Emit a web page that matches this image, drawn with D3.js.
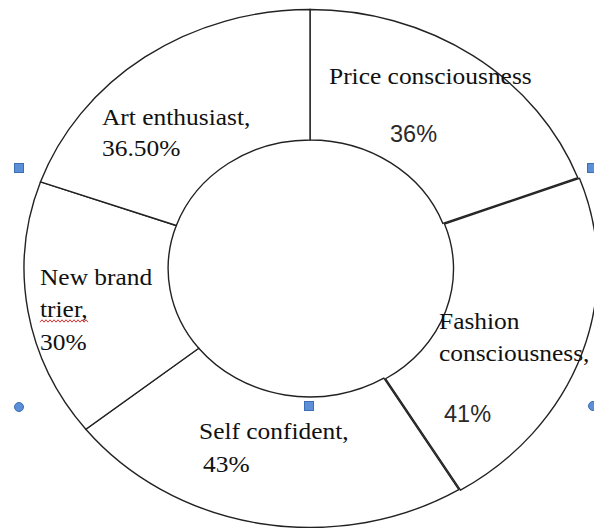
<!DOCTYPE html>
<meta charset="utf-8">
<script src="https://d3js.org/d3.v7.min.js"></script>
<style>
  body { margin: 0; background: #fff; }
</style>
<svg id="chart" width="594" height="528"></svg>
<script>

// Data
var categories = ["Price consciousness", "Fashion consciousness", "Self confident", "New brand trier", "Art enthusiast"];
var values = [36, 41, 43, 30, 36.5];
var valueLabels = ["36%", "41%", "43%", "30%", "36.50%"];

var svg = d3.select("#chart");

// the donut is a bit wider than tall
var cx = 310, cy = 268.5,
    outerR = 259, innerR = 128.5,
    stretch = 1.104;

var pie = d3.pie().sort(null).value(function(d){ return d.value; });
var arc = d3.arc().innerRadius(innerR).outerRadius(outerR);

var slices = pie(categories.map(function(c, i){
  return { name: c, value: values[i], pct: valueLabels[i] };
}));

// Fashion slice is pulled out just a little
var explode = { "Fashion consciousness": 1.6 };

var g = svg.append("g")
    .attr("transform", "translate(" + cx + "," + cy + ") scale(" + stretch + ",1)");

// draw the exploded one last so its edge sits on top
var order = slices.slice().sort(function(a, b){
  return (explode[a.data.name] ? 1 : 0) - (explode[b.data.name] ? 1 : 0);
});

g.selectAll("path")
  .data(order)
  .enter()
  .append("path")
    .attr("d", arc)
    .attr("transform", function(d){
      var off = explode[d.data.name] || 0;
      var a = (d.startAngle + d.endAngle) / 2;
      return "translate(" + (Math.sin(a) * off) + "," + (-Math.cos(a) * off) + ")";
    })
    .attr("fill", "#fff")
    .attr("stroke", "#222")
    .attr("stroke-width", 1.4)
    .attr("stroke-linejoin", "miter")
    .attr("vector-effect", "non-scaling-stroke");

// Labels (placed by hand like the Word chart)
var serif = "'Liberation Serif', 'Times New Roman', serif";
var sans = "'Liberation Sans', Arial, sans-serif";

var labelLayout = [
  [ { x: 329, y: 84,  text: function(d){ return d.name; }, font: serif },
    { x: 390, y: 142, text: function(d){ return d.pct; },  font: sans } ],
  [ { x: 439, y: 329, text: function(d){ return d.name.split(" ")[0]; }, font: serif },
    { x: 439, y: 361, text: function(d){ return d.name.split(" ")[1] + ","; }, font: serif },
    { x: 444, y: 422, text: function(d){ return d.pct; }, font: sans } ],
  [ { x: 199, y: 439, text: function(d){ return d.name + ","; }, font: serif },
    { x: 203, y: 472, text: function(d){ return d.pct; }, font: serif } ],
  [ { x: 40, y: 285, text: function(d){ return d.name.split(" ").slice(0, 2).join(" "); }, font: serif },
    { x: 40, y: 317, text: function(d){ return d.name.split(" ")[2] + ","; }, font: serif },
    { x: 40, y: 350, text: function(d){ return d.pct; }, font: serif } ],
  [ { x: 102, y: 125, text: function(d){ return d.name + ","; }, font: serif },
    { x: 102, y: 156, text: function(d){ return d.pct; }, font: serif } ]
];

var labels = svg.append("g");
slices.forEach(function(s, i){
  labelLayout[i].forEach(function(l){
    var isSerif = l.font === serif;
    labels.append("text")
      .attr("transform", "translate(" + l.x + "," + l.y + ") scale(" + (isSerif ? 1.06 : 1) + ",1)")
      .attr("font-family", l.font)
      .attr("font-size", isSerif ? 24 : 23.5)
      .attr("fill", isSerif ? "#111" : "#2a2a2a")
      .text(l.text(s.data));
  });
});

// spell-check squiggle under "trier,"
var squiggle = d3.range(0, 25).map(function(i){ return [40 + i * 2, 321 + (i % 2 ? -1.2 : 1.2)]; });
svg.append("path")
  .attr("d", d3.line()(squiggle))
  .attr("fill", "none")
  .attr("stroke", "#d33")
  .attr("stroke-width", 1);

// selection handles left by the editor
var handles = [
  { x: 19,  y: 168, shape: "square" },
  { x: 592, y: 168, shape: "square" },
  { x: 309, y: 406, shape: "square" },
  { x: 19,  y: 407, shape: "circle" },
  { x: 593, y: 406, shape: "circle" }
];
var hg = svg.append("g");
handles.forEach(function(h){
  if (h.shape === "square") {
    hg.append("rect")
      .attr("x", h.x - 4.5).attr("y", h.y - 4.5)
      .attr("width", 9).attr("height", 9)
      .attr("fill", "#5b8fd8").attr("stroke", "#3d6db3").attr("stroke-width", 1);
  } else {
    hg.append("circle")
      .attr("cx", h.x).attr("cy", h.y).attr("r", 4.5)
      .attr("fill", "#5b8fd8").attr("stroke", "#3d6db3").attr("stroke-width", 1);
  }
});

</script>
